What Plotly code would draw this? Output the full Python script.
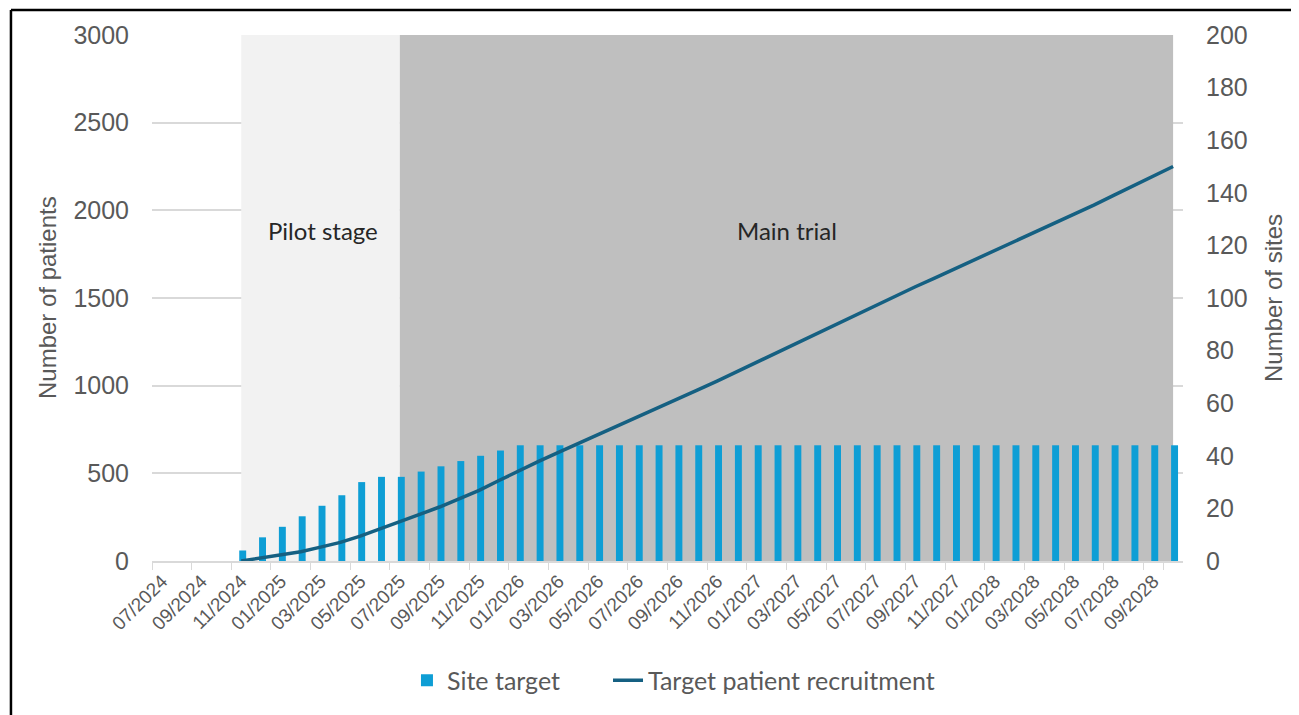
import plotly.graph_objects as go

months = ["07/2024", "08/2024", "09/2024", "10/2024", "11/2024", "12/2024",
          "01/2025", "02/2025", "03/2025", "04/2025", "05/2025", "06/2025",
          "07/2025", "08/2025", "09/2025", "10/2025", "11/2025", "12/2025",
          "01/2026", "02/2026", "03/2026", "04/2026", "05/2026", "06/2026",
          "07/2026", "08/2026", "09/2026", "10/2026", "11/2026", "12/2026",
          "01/2027", "02/2027", "03/2027", "04/2027", "05/2027", "06/2027",
          "07/2027", "08/2027", "09/2027", "10/2027", "11/2027", "12/2027",
          "01/2028", "02/2028", "03/2028", "04/2028", "05/2028", "06/2028",
          "07/2028", "08/2028", "09/2028", "10/2028"]

site_target = [None, None, None, None,
               4, 9, 13, 17, 21, 25, 30, 32, 32, 34, 36, 38, 40, 42,
               44, 44, 44, 44, 44, 44, 44, 44, 44, 44, 44, 44, 44, 44,
               44, 44, 44, 44, 44, 44, 44, 44, 44, 44, 44, 44, 44, 44,
               44, 44, 44, 44, 44, 44]

patients = [None, None, None, None,
            0, 18, 35, 53, 79, 106, 142, 185, 223, 266, 308, 355, 403, 459,
            515, 568, 620, 670, 721, 772, 823, 874, 924, 975, 1026,
            1080, 1135, 1189, 1243, 1298, 1352, 1407, 1461,
            1512, 1564, 1615, 1667, 1718, 1769, 1821, 1872, 1924, 1975,
            2030, 2085, 2140, 2195, 2250]

pilot_months = months[4:13]
main_months = months[12:52]
stage_top = 3000

tick_labels = months[::2]

GRAY = "#595959"
fig = go.Figure()

fig.add_trace(go.Scatter(x=pilot_months, y=[stage_top] * len(pilot_months),
                         mode="lines", line=dict(width=0), fill="tozeroy",
                         fillcolor="#F2F2F2", showlegend=False, hoverinfo="skip"))
fig.add_trace(go.Scatter(x=main_months, y=[stage_top] * len(main_months),
                         mode="lines", line=dict(width=0), fill="tozeroy",
                         fillcolor="#BFBFBF", showlegend=False, hoverinfo="skip"))

fig.add_trace(go.Bar(x=months, y=site_target, name="Site target",
                     marker=dict(color="#0E9ED5", line=dict(width=0)),
                     width=0.35, offset=-0.1, yaxis="y2", legend="legend"))

fig.add_trace(go.Scatter(x=months, y=patients, name="Target patient recruitment",
                         mode="lines", line=dict(color="#156082", width=3.5),
                         yaxis="y3", legend="legend2"))

legend_font = dict(size=25, color=GRAY, family="Lato")

# the page body has an 8px default margin, so the figure is sized to fit the window
fig.update_layout(
    width=1291, height=707,
    margin=dict(l=144, r=116, t=27, b=151),
    paper_bgcolor="white", plot_bgcolor="white",
    font=dict(family="Liberation Sans, Arial", color=GRAY),
    xaxis=dict(type="category", categoryorder="array", categoryarray=months,
               range=[-0.5, 51.5],
               tickmode="array", tickvals=tick_labels, ticktext=tick_labels,
               tickson="boundaries", ticks="outside", ticklen=7,
               tickcolor="#D9D9D9", tickangle=-45,
               tickfont=dict(size=19, color=GRAY, family="Liberation Sans, Arial"),
               showgrid=False, showline=True, linecolor="#D9D9D9", linewidth=1.5,
               automargin=False, zeroline=False),
    yaxis=dict(range=[0, 3000], dtick=500, showgrid=True, gridcolor="#D9D9D9",
               gridwidth=1.5, zeroline=False, showline=False,
               tickfont=dict(size=25, color=GRAY), ticklabelstandoff=22,
               automargin=False),
    yaxis2=dict(range=[0, 200], dtick=20, overlaying="y", side="right",
                showgrid=False, zeroline=False, showline=False,
                tickfont=dict(size=25, color=GRAY), ticklabelstandoff=22,
                automargin=False),
    yaxis3=dict(range=[0, 3000], overlaying="y", visible=False),
    legend=dict(orientation="h", x=0.2473, xanchor="left", y=-0.227,
                yanchor="middle", font=legend_font,
                bgcolor="rgba(0,0,0,0)"),
    legend2=dict(orientation="h", x=0.4423, xanchor="left", y=-0.227,
                 yanchor="middle", font=legend_font,
                 bgcolor="rgba(0,0,0,0)"),
    showlegend=True,
)

fig.add_annotation(text="Number of patients", xref="paper", yref="paper",
                   x=-0.1018, y=0.5, xanchor="center", yanchor="middle",
                   textangle=-90, showarrow=False,
                   font=dict(size=24, color=GRAY))
fig.add_annotation(text="Number of sites", xref="paper", yref="paper",
                   x=1.0873, y=0.5, xanchor="center", yanchor="middle",
                   textangle=-90, showarrow=False,
                   font=dict(size=24, color=GRAY))
fig.add_annotation(text="Pilot stage", xref="paper", yref="paper",
                   x=0.166, y=0.628, xanchor="center", showarrow=False,
                   font=dict(size=24, color="#262626", family="Lato"))
fig.add_annotation(text="Main trial", xref="paper", yref="paper",
                   x=0.616, y=0.628, xanchor="center", showarrow=False,
                   font=dict(size=24, color="#262626", family="Lato"))

# frame lines (left and top edges of the chart border)
fig.add_shape(type="line", xref="paper", yref="paper",
              x0=-0.1368, x1=-0.1368, y0=1.0473, y1=-0.3,
              line=dict(color="black", width=2.5))
fig.add_shape(type="line", xref="paper", yref="paper",
              x0=-0.1368, x1=1.13, y0=1.0473, y1=1.0473,
              line=dict(color="black", width=2.5))

fig.write_html("out.html")
